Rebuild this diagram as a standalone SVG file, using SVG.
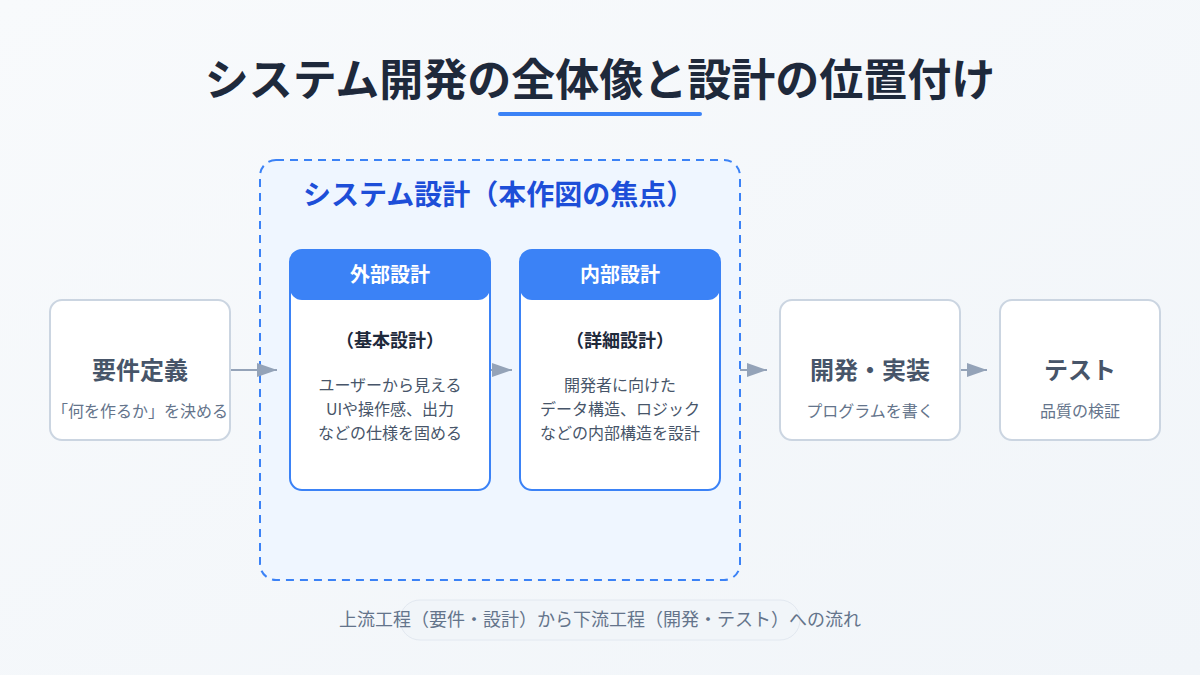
<svg xmlns="http://www.w3.org/2000/svg" width="1200" height="675" viewBox="0 0 1200 675">
  <defs>
    <linearGradient id="bg" x1="0" y1="0" x2="1" y2="1">
      <stop offset="0" stop-color="#f8fafc"/>
      <stop offset="1" stop-color="#f1f5f9"/>
    </linearGradient>
    <marker id="arrow" markerUnits="userSpaceOnUse" markerWidth="20" markerHeight="14" refX="20" refY="7" orient="auto">
      <path d="M0,0 L20,7 L0,14 z" fill="#94a3b8"/>
    </marker>
    <style>
      text { font-family: "Noto Sans CJK JP", "Noto Sans", sans-serif; }
      .title { font-size: 44px; font-weight: 700; fill: #1e293b; }
      .group-label { font-size: 28px; font-weight: 700; fill: #1d4ed8; }
      .box { fill: #ffffff; stroke: #cbd5e1; stroke-width: 2; }
      .dbox { fill: #ffffff; stroke: #3b82f6; stroke-width: 2; }
      .head { fill: #3b82f6; }
      .head-text { font-size: 20px; font-weight: 700; fill: #ffffff; text-anchor: middle; }
      .sub-head { font-size: 18px; font-weight: 700; fill: #1e293b; text-anchor: middle; }
      .body { font-size: 16px; fill: #475569; text-anchor: middle; }
      .node-title { font-size: 24px; font-weight: 700; fill: #475569; text-anchor: middle; }
      .node-sub { font-size: 16px; fill: #64748b; text-anchor: middle; }
      .conn { stroke: #94a3b8; stroke-width: 2; fill: none; marker-end: url(#arrow); }
      .footer { font-size: 18px; fill: #64748b; text-anchor: middle; }
    </style>
  </defs>

  <rect x="0" y="0" width="1200" height="675" fill="url(#bg)"/>

  <g id="title">
    <text class="title" x="600" y="96" text-anchor="middle">システム開発の全体像と設計の位置付け</text>
    <rect x="498" y="112" width="204" height="4" rx="2" fill="#3b82f6"/>
  </g>

  <g id="system-design">
    <rect x="260" y="160" width="480" height="420" rx="16" fill="#eff6ff" stroke="#3b82f6" stroke-width="2" stroke-dasharray="8 6"/>
    <text class="group-label" x="303" y="205">システム設計（本作図の焦点）</text>
  </g>

  <g id="connectors">
    <line class="conn" x1="230" y1="370" x2="277" y2="370"/>
    <line class="conn" x1="490" y1="370" x2="512" y2="370"/>
    <line class="conn" x1="740" y1="370" x2="767" y2="370"/>
    <line class="conn" x1="960" y1="370" x2="987" y2="370"/>
  </g>

  <g id="requirements">
    <rect class="box" x="50" y="300" width="180" height="140" rx="12"/>
    <text class="node-title" x="140" y="379">要件定義</text>
    <text class="node-sub" x="140" y="417">「何を作るか」を決める</text>
  </g>

  <g id="external-design">
    <rect class="dbox" x="290" y="250" width="200" height="240" rx="12"/>
    <rect class="head" x="290" y="250" width="200" height="50" rx="12"/>
    <text class="head-text" x="390" y="282">外部設計</text>
    <text class="sub-head" x="390" y="347">（基本設計）</text>
    <text class="body" x="390" y="391">ユーザーから見える</text>
    <text class="body" x="390" y="415">UIや操作感、出力</text>
    <text class="body" x="390" y="439">などの仕様を固める</text>
  </g>

  <g id="internal-design">
    <rect class="dbox" x="520" y="250" width="200" height="240" rx="12"/>
    <rect class="head" x="520" y="250" width="200" height="50" rx="12"/>
    <text class="head-text" x="620" y="282">内部設計</text>
    <text class="sub-head" x="620" y="347">（詳細設計）</text>
    <text class="body" x="620" y="391">開発者に向けた</text>
    <text class="body" x="620" y="415">データ構造、ロジック</text>
    <text class="body" x="620" y="439">などの内部構造を設計</text>
  </g>

  <g id="implementation">
    <rect class="box" x="780" y="300" width="180" height="140" rx="12"/>
    <text class="node-title" x="870" y="379">開発・実装</text>
    <text class="node-sub" x="870" y="417">プログラムを書く</text>
  </g>

  <g id="test">
    <rect class="box" x="1000" y="300" width="160" height="140" rx="12"/>
    <text class="node-title" x="1080" y="379">テスト</text>
    <text class="node-sub" x="1080" y="417">品質の検証</text>
  </g>

  <g id="footer">
    <rect x="400" y="600" width="400" height="40" rx="20" fill="#f1f5f9" stroke="#e2e8f0" stroke-width="1"/>
    <text class="footer" x="600" y="626">上流工程（要件・設計）から下流工程（開発・テスト）への流れ</text>
  </g>
</svg>
